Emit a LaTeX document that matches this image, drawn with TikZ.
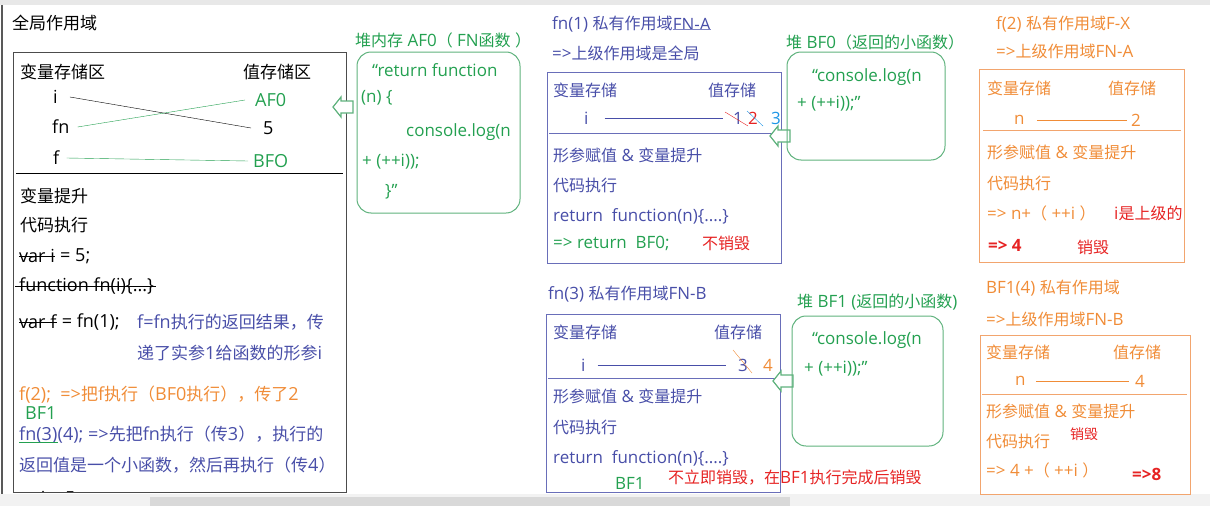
\documentclass[tikz,border=0pt]{standalone}
\usepackage{fontspec}
\setmainfont{Open Sans}[Scale=1.06]
\newfontfamily\latinfont{Open Sans}[Scale=1.06]
\newfontfamily\cjkfont{Noto Sans CJK SC}
% switch to the CJK font for ideographs and full-width forms
\newcount\cjkcode
\newcommand{\cjkrange}[2]{\cjkcode=#1
  \loop \XeTeXcharclass\cjkcode=7 \advance\cjkcode by 1 \ifnum\cjkcode<#2 \repeat}
\cjkrange{"4E00}{"A000}
\cjkrange{"3000}{"3040}
\cjkrange{"FF00}{"FFF0}
\XeTeXinterchartoks 0 7 = {\cjkfont}
\XeTeXinterchartoks 4095 7 = {\cjkfont}
\XeTeXinterchartoks 7 0 = {\latinfont}
\XeTeXinterchartoks 7 4095 = {\latinfont}
\XeTeXinterchartokenstate=1
\usepackage{tikz}
\usetikzlibrary{positioning}
\definecolor{jsblue}{RGB}{72,78,168}
\definecolor{jsorange}{RGB}{240,140,55}
\definecolor{jsgreen}{RGB}{35,160,80}
\definecolor{jsred}{RGB}{230,35,35}
\definecolor{jssky}{RGB}{30,150,230}
\definecolor{heapgreen}{RGB}{95,178,125}
\definecolor{boxblue}{RGB}{105,110,185}
\definecolor{boxorange}{RGB}{242,165,110}
% hollow arrow pointing left, tip at (#1,#2)
\newcommand{\hollowarrow}[2]{%
  \draw[heapgreen, line width=1.2pt, fill=white] (#1,#2) -- ++(8,-10) -- ++(0,4) -- ++(12,0)
    -- ++(0,12) -- ++(-12,0) -- ++(0,4) -- cycle;}

\begin{document}
\begin{tikzpicture}[x=1pt, y=-1pt,
  txt/.style={anchor=west, inner sep=0pt, font=\fontsize{16}{18}\selectfont},
  bigtxt/.style={txt, font=\fontsize{17}{19}\selectfont},
  heapbox/.style={heapgreen, line width=1pt, rounded corners=14pt},
  bluebox/.style={boxblue, line width=1pt},
  orangebox/.style={boxorange, line width=1pt}]
  \useasboundingbox (0,0) rectangle (1210,506);
  % window chrome
  \fill[gray!18] (0,0) rectangle (1210,5);
  \fill[gray!10] (0,494) rectangle (1210,506);
  \fill[gray!30] (150,497) rectangle (790,506);
  \draw[gray!70!black, line width=1.5pt] (2,5) -- (2,494);

  % ---- global scope ----
  \node[bigtxt] (globalttl) at (12,23) {全局作用域};
  \draw[black!70, line width=1pt] (13,52) rectangle (346,492);
  \draw (16,173) -- (343,173);
  \node[bigtxt] (varzone) at (20,72) {变量存储区};
  \node[bigtxt] (valzone) at (243,72) {值存储区};
  \node[bigtxt] (gi) at (53,97) {i};
  \node[bigtxt] (gfn) at (52,127) {fn};
  \node[bigtxt] (gf) at (53,158) {f};
  \node[bigtxt, jsgreen] (gaf0) at (255,100) {AF0};
  \node[bigtxt] (g5) at (263,128) {5};
  \node[bigtxt, jsgreen] (gbf0) at (253,161) {BFO};
  \draw ([xshift=12pt]gi.east) -- ([xshift=-12pt]g5.west);
  \draw[jsgreen] ([xshift=8pt]gfn.east) -- ([xshift=-10pt]gaf0.west);
  \draw[jsgreen] ([xshift=7pt]gf.east) -- ([xshift=-5pt]gbf0.west);

  \node[bigtxt] (hoist) at (20,196) {变量提升};
  \node[bigtxt] (gexec) at (20,225) {代码执行};
  \node[bigtxt] (vari) at (19,256) {var i};
  \node[bigtxt, right=5pt of vari] (vari5) {= 5;};
  \draw (vari.west) -- (vari.east);
  \node[bigtxt] (fndecl) at (19,286) {function fn(i)\{...\}};
  \draw ([xshift=-4pt]fndecl.west) -- ([xshift=2pt]fndecl.east);
  \node[bigtxt] (varf) at (19,322) {var f};
  \node[bigtxt, right=5pt of varf] (varfcall) {= fn(1);};
  \draw (varf.west) -- (varf.east);
  \node[bigtxt, jsblue] (fnote1) at (137,322) {f=fn执行的返回结果，传};
  \node[bigtxt, jsblue] (fnote2) at (137,353) {递了实参1给函数的形参i};
  \node[bigtxt, jsorange] (f2call) at (19,395) {f(2);\ \ =>把f执行（BF0执行），传了2};
  \node[bigtxt, jsgreen] (bf1note) at (25,413) {BF1};
  \node[bigtxt, jsblue] (fn3) at (19,435) {fn(3)};
  \node[bigtxt, jsblue, right=0pt of fn3] (fn3rest) {(4);\ =>先把fn执行（传3），执行的};
  \draw[jsgreen] ([yshift=1pt]fn3.south west) -- ([yshift=1pt]fn3.south east);
  \node[bigtxt, jsblue] (fn3note) at (19,465) {返回值是一个小函数，然后再执行（传4）};
  \begin{scope}
    \clip (14,478) rectangle (345,491);
    \node[bigtxt] (iresult) at (20,498) {=>i = 5};
  \end{scope}

  % ---- heap AF0 ----
  \node[txt, jsgreen] (af0ttl) at (355,40) {堆内存 AF0（ FN函数 ）};
  \draw[heapbox] (357,52) rectangle (520,213);
  \node[txt, jsgreen] (af0l1) at (372,70) {“return function};
  \node[txt, jsgreen] (af0l2) at (361,98) {(n) \{};
  \node[txt, jsgreen] (af0l3) at (406,132) {console.log(n};
  \node[txt, jsgreen] (af0l4) at (362,162) {+ (++i));};
  \node[txt, jsgreen] (af0l5) at (385,192) {\}”};
  \hollowarrow{333}{107}

  % ---- scope FN-A ----
  \node[txt, jsblue] (fnattl) at (552,24) {fn(1) 私有作用域};
  \node[txt, jsblue, right=0pt of fnattl] (fnaname) {FN-A};
  \draw[jsblue!70] ([yshift=1pt]fnaname.south west) -- ([yshift=1pt]fnaname.south east);
  \node[txt, jsblue] (fnaup) at (552,53) {=>上级作用域是全局};
  \draw[bluebox] (547,72) rectangle (781,263);
  \draw[bluebox] (549,133) -- (780,133);
  \node[txt, jsblue] (avar) at (553,90) {变量存储};
  \node[txt, jsblue] (aval) at (708,90) {值存储};
  \node[txt, jsblue] (ai) at (584,118) {i};
  \node[txt, jsblue] (a1) at (733,118) {1};
  \node[txt, jsred] (a2) at (748,118) {2};
  \node[txt, jssky] (a3) at (771,118) {3};
  \draw[jsblue] ([xshift=16pt]ai.east) -- ([xshift=-10pt]a1.west);
  \draw[jsred] (725,112) -- (748,126);
  \draw[jssky] (747,111) -- (763,126);
  \node[txt, jsblue] (ahoist) at (553,155) {形参赋值 \& 变量提升};
  \node[txt, jsblue] (aexec) at (553,185) {代码执行};
  \node[txt, jsblue] (aret) at (553,216) {return\ \ function(n)\{....\}};
  \node[txt, jsgreen] (aretbf0) at (553,243) {=> return\ \ BF0;};
  \node[txt, jsred] (akeep) at (702,243) {不销毁};
  \hollowarrow{770}{136}

  % ---- heap BF0 ----
  \node[txt, jsgreen] (bf0ttl) at (786,42) {堆 BF0（返回的小函数）};
  \draw[heapbox] (787,52) rectangle (945,160);
  \node[txt, jsgreen] (bf0l1) at (812,77) {“console.log(n};
  \node[txt, jsgreen] (bf0l2) at (797,104) {+ (++i));”};

  % ---- scope F-X ----
  \node[txt, jsorange] (fxttl) at (996,24) {f(2) 私有作用域F-X};
  \node[txt, jsorange] (fxup) at (996,51) {=>上级作用域FN-A};
  \draw[orangebox] (979,69) rectangle (1184,262);
  \draw[orangebox] (983,130) -- (1181,130);
  \node[txt, jsorange] (xvar) at (987,88) {变量存储};
  \node[txt, jsorange] (xval) at (1108,88) {值存储};
  \node[txt, jsorange] (xn) at (1014,120) {n};
  \node[txt, jsorange] (x2) at (1131,120) {2};
  \draw[jsorange] ([xshift=12pt]xn.east) -- ([xshift=-4pt]x2.west);
  \node[txt, jsorange] (xhoist) at (987,152) {形参赋值 \& 变量提升};
  \node[txt, jsorange] (xexec) at (987,183) {代码执行};
  \node[txt, jsorange] (xcalc) at (987,213) {=> n+（ ++i ）};
  \node[txt, jsred] (xupper) at (1114,213) {i是上级的};
  \node[txt, jsred, font=\fontsize{16}{18}\selectfont\bfseries] (xres) at (988,245) {=> 4};
  \node[txt, jsred] (xgone) at (1077,247) {销毁};

  % ---- scope FN-B ----
  \node[txt, jsblue] (fnbttl) at (548,294) {fn(3) 私有作用域FN-B};
  \draw[bluebox] (546,314) rectangle (780,492);
  \draw[bluebox] (548,378) -- (778,378);
  \node[txt, jsblue] (bvar) at (553,332) {变量存储};
  \node[txt, jsblue] (bval) at (714,332) {值存储};
  \node[txt, jsblue] (bi) at (581,365) {i};
  \node[txt, jsblue] (b3) at (738,365) {3};
  \node[txt, jsorange] (b4) at (763,365) {4};
  \draw[jsblue] ([xshift=12pt]bi.east) -- ([xshift=-12pt]b3.west);
  \draw[jsorange] (733,350) -- (752,373);
  \node[txt, jsblue] (bhoist) at (553,396) {形参赋值 \& 变量提升};
  \node[txt, jsblue] (bexec) at (553,427) {代码执行};
  \node[txt, jsblue] (bret) at (553,458) {return\ \ function(n)\{....\}};
  \node[txt, jsgreen] (bretbf1) at (615,483) {BF1};
  \node[txt, jsred] (bkeep) at (668,478) {不立即销毁，在BF1执行完成后销毁};
  \hollowarrow{773}{381}

  % ---- heap BF1 ----
  \node[txt, jsgreen] (bf1ttl) at (797,302) {堆 BF1 (返回的小函数)};
  \draw[heapbox] (792,316) rectangle (943,446);
  \node[txt, jsgreen] (bf1l1) at (812,340) {“console.log(n};
  \node[txt, jsgreen] (bf1l2) at (804,369) {+ (++i));”};

  % ---- scope of BF1(4) ----
  \node[txt, jsorange] (bxttl) at (986,288) {BF1(4) 私有作用域};
  \node[txt, jsorange] (bxup) at (986,319) {=>上级作用域FN-B};
  \draw[orangebox] (980,335) rectangle (1190,494);
  \draw[orangebox] (982,394) -- (1187,394);
  \node[txt, jsorange] (yvar) at (986,352) {变量存储};
  \node[txt, jsorange] (yval) at (1113,352) {值存储};
  \node[txt, jsorange] (yn) at (1015,381) {n};
  \node[txt, jsorange] (y4) at (1135,381) {4};
  \draw[jsorange] ([xshift=10pt]yn.east) -- ([xshift=-6pt]y4.west);
  \node[txt, jsorange] (yhoist) at (986,411) {形参赋值 \& 变量提升};
  \node[txt, jsorange] (yexec) at (986,441) {代码执行};
  \node[txt, jsred, font=\fontsize{14}{16}\selectfont] (ygone) at (1070,434) {销毁};
  \node[txt, jsorange] (ycalc) at (986,470) {=> 4 +（ ++i ）};
  \node[txt, jsred, font=\fontsize{16}{18}\selectfont\bfseries] (yres) at (1132,474) {=>8};
\end{tikzpicture}
\end{document}
